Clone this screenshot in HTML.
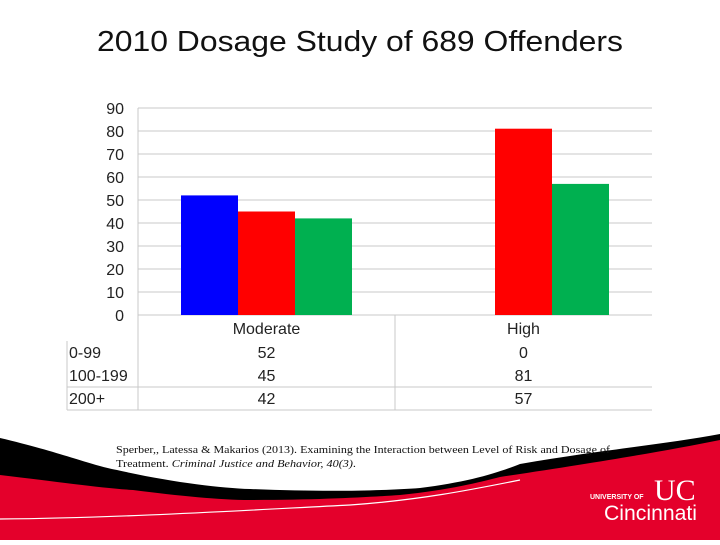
<!DOCTYPE html>
<html><head><meta charset="utf-8"><style>
body{margin:0;width:720px;height:540px;background:#fff;overflow:hidden;font-family:"Liberation Sans",sans-serif}
</style></head><body>
<svg width="720" height="540" xmlns="http://www.w3.org/2000/svg">
<text x="360" y="51" text-anchor="middle" font-size="29" textLength="526" lengthAdjust="spacingAndGlyphs" fill="#111">2010 Dosage Study of 689 Offenders</text>
<g id="grid"></g>
<g id="yt"></g>
<g id="bars"></g>
<g id="tbl"></g>
<g>
<path d="M0,438 C60,452 90,465 117,470 C170,482 220,488 250,489 C320,492 380,491 420,488 C470,482 500,472 520,464 C600,450 660,445 720,434 L720,540 L0,540 Z" fill="#000"/>
<path d="M0,475 C60,482 100,488 133,490 C180,496 220,500 250,500 C320,500 370,497 400,495 C450,490 480,482 500,477 C600,462 660,452 720,440 L720,540 L0,540 Z" fill="#e4002b"/>
<path d="M0,519 C120,518 250,510 350,505 C420,500 470,490 520,480" stroke="#fff" stroke-width="1.2" fill="none"/>
</g>
<text x="116" y="453" font-family="Liberation Serif" font-size="10.5" textLength="494" lengthAdjust="spacingAndGlyphs" fill="#111">Sperber,, Latessa &amp; Makarios  (2013). Examining the Interaction between Level of Risk and Dosage of</text>
<text x="116" y="467" font-family="Liberation Serif" font-size="10.5" textLength="240" lengthAdjust="spacingAndGlyphs" fill="#111">Treatment.  <tspan font-style="italic">Criminal Justice and Behavior, 40(3)</tspan>.</text>
<g fill="#fff">
<text x="590" y="499" font-size="7" font-weight="bold">UNIVERSITY OF</text>
<text x="604" y="520" font-size="21" textLength="93" lengthAdjust="spacingAndGlyphs">Cincinnati</text>
<text x="654" y="500" font-size="30" font-family="Liberation Serif">UC</text>
</g>
</svg>
<script>
const categories=["Moderate","High"];
const seriesNames=["0-99","100-199","200+"];
const s0=[52,0];
const s1=[45,81];
const s2=[42,57];
const yTicks=[0,10,20,30,40,50,60,70,80,90];
const colors=["#0000ff","#ff0000","#00b050"];
const NS="http://www.w3.org/2000/svg";
const x0=138,x1=652,y0=315,ymax=90,yTop=108;
const yS=v=>y0-(v/ymax)*(y0-yTop);
const cw=(x1-x0)/categories.length,bw=57;
function mk(t,a,p){const e=document.createElementNS(NS,t);for(const k in a)e.setAttribute(k,a[k]);p.appendChild(e);return e;}
const grid=document.getElementById('grid'),yt=document.getElementById('yt'),bars=document.getElementById('bars'),tbl=document.getElementById('tbl');
yTicks.forEach(v=>{const l=mk('line',{x1:x0,x2:x1,y1:yS(v),y2:yS(v),stroke:'#c8c8c8','stroke-width':1},grid);


const t=mk('text',{x:124,y:yS(v)+6,'text-anchor':'end','font-size':16,fill:'#222'},yt);t.textContent=v;

});
mk('line',{x1:x0,x2:x0,y1:yTop,y2:410,stroke:'#c8c8c8'},grid);
const series=[s0,s1,s2];
categories.forEach((c,i)=>{const cx=x0+cw*(i+0.5);
series.forEach((s,j)=>{const x=cx-1.5*bw+j*bw;const r=mk('rect',{x:x,y:yS(s[i]),width:bw,height:y0-yS(s[i]),fill:colors[j]},bars);

});
const t=mk('text',{x:cx,y:334,'text-anchor':'middle','font-size':16,fill:'#222'},tbl);t.textContent=c;


series.forEach((s,j)=>{const v=mk('text',{x:cx,y:358+j*23,'text-anchor':'middle','font-size':16,fill:'#222'},tbl);v.textContent=s[i];

});});
seriesNames.forEach((n,j)=>{const t=mk('text',{x:69,y:358+j*23,'font-size':16,fill:'#222'},tbl);t.textContent=n;

});
mk('line',{x1:x0+cw,x2:x0+cw,y1:y0,y2:410,stroke:'#c8c8c8'},tbl);
mk('line',{x1:67,x2:67,y1:341,y2:410,stroke:'#c8c8c8'},tbl);
mk('line',{x1:67,x2:x1,y1:387,y2:387,stroke:'#c8c8c8'},tbl);
mk('line',{x1:67,x2:x1,y1:410,y2:410,stroke:'#c8c8c8'},tbl);
</script>
</body></html>
